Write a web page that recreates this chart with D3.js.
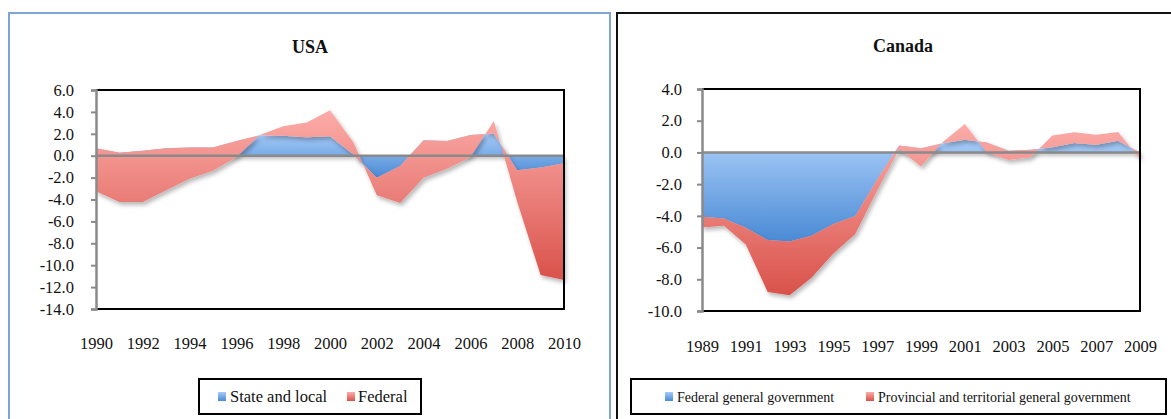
<!DOCTYPE html>
<html>
<head>
<meta charset="utf-8">
<title>USA / Canada government balances</title>
<script src="https://d3js.org/d3.v7.min.js"></script>
<style>
  body { margin: 0; background: #fff; }
  text { font-family: "Liberation Serif", "DejaVu Serif", serif; fill: #111; }
</style>
</head>
<body>
<div id="chart"></div>
<script>

// --- data (% of GDP) ---
var usaYears = d3.range(1990, 2011);
var usaStateLocal = [0.67, 0.28, 0.46, 0.67, 0.76, 0.76, 1.35, 1.87, 1.83, 1.68, 1.77,
                     0.10, -2.02, -0.95, 1.41, 1.35, 1.90, 2.03, -1.33, -1.07, -0.70];
var usaFederal = [-3.91, -4.50, -4.68, -3.82, -2.87, -2.14, -1.50, 0.03, 0.86, 1.35, 2.39,
                  1.12, -1.59, -3.36, -3.43, -2.54, -2.05, 1.15, -2.87, -9.83, -10.65];
var usaXTicks = d3.range(1990, 2011, 2);
var usaYTicks = d3.range(-14, 6.1, 2);

var canYears = d3.range(1989, 2010);
var canFederal = [-4.05, -4.16, -4.75, -5.53, -5.61, -5.25, -4.51, -4.01, -1.70, 0.44, 0.27,
                  0.58, 0.80, 0.63, 0.10, 0.17, 0.32, 0.59, 0.49, 0.74, 0.00];
var canProvincial = [-0.68, -0.46, -1.05, -3.27, -3.40, -2.66, -1.86, -1.14, -0.70, -0.24, -1.16,
                     0.07, 0.99, -0.63, -0.57, -0.47, 0.75, 0.68, 0.63, 0.55, -0.42];
var canXTicks = d3.range(1989, 2010, 2);
var canYTicks = d3.range(-10, 4.1, 2);

var width = 1171, height = 419;

var svg = d3.select("#chart").append("svg")
    .attr("width", width)
    .attr("height", height);

var defs = svg.append("defs");

// gradients like the old Excel fills
function grad(id, top, bottom) {
  var g = defs.append("linearGradient").attr("id", id)
      .attr("x1", 0).attr("y1", 0).attr("x2", 0).attr("y2", 1);
  g.append("stop").attr("offset", "0%").attr("stop-color", top);
  g.append("stop").attr("offset", "100%").attr("stop-color", bottom);
}
grad("blueFill", "#a6cbf8", "#4a8ad5");
grad("redFill", "#fcaca9", "#d9524a");

var shadow = defs.append("filter").attr("id", "shade")
    .attr("x", "-5%").attr("y", "-5%").attr("width", "115%").attr("height", "120%");
shadow.append("feDropShadow")
    .attr("dx", 2).attr("dy", 3).attr("stdDeviation", 2)
    .attr("flood-color", "#000").attr("flood-opacity", 0.28);

// panel frames
svg.append("rect").attr("x", 9).attr("y", 13).attr("width", 601).attr("height", 430)
    .attr("fill", "#fff").attr("stroke", "#7ea5d6").attr("stroke-width", 2);
svg.append("rect").attr("x", 617).attr("y", 13).attr("width", 580).attr("height", 430)
    .attr("fill", "#fff").attr("stroke", "#111").attr("stroke-width", 2);

function drawChart(cfg) {
  var x = d3.scaleLinear().domain(d3.extent(cfg.years)).range([cfg.left, cfg.right]);
  var y = d3.scaleLinear().domain(d3.extent(cfg.yTicks)).range([cfg.bottom, cfg.top]);

  var rows = cfg.years.map(function(yr, i) {
    return { year: yr, a: cfg.s1[i], b: cfg.s2[i] };
  });
  var stacked = d3.stack().keys(["a", "b"])
      .offset(d3.stackOffsetNone).order(d3.stackOrderNone)(rows);

  var area = d3.area()
      .x(function(d) { return x(d.data.year); })
      .y0(function(d) { return y(d[0]); })
      .y1(function(d) { return y(d[1]); });

  // title
  svg.append("text")
      .attr("x", cfg.titleX).attr("y", cfg.titleY)
      .attr("text-anchor", "middle")
      .style("font-size", "18px").style("font-weight", "bold")
      .text(cfg.title);

  var g = svg.append("g");

  g.selectAll(".layer").data(stacked).enter().append("path")
      .attr("class", "layer")
      .attr("d", area)
      .attr("fill", function(d, i) { return i == 0 ? "url(#blueFill)" : "url(#redFill)"; })
      .attr("filter", "url(#shade)");

  // zero line
  g.append("line")
      .attr("x1", cfg.left).attr("x2", cfg.right)
      .attr("y1", y(0)).attr("y2", y(0))
      .attr("stroke", "#8a8a8a").attr("stroke-width", 2.5);

  // frame: black top/right/bottom, grey value axis on left
  g.append("path")
      .attr("d", "M" + cfg.left + "," + cfg.top + "H" + cfg.right + "V" + cfg.bottom + "H" + cfg.left)
      .attr("fill", "none").attr("stroke", "#000").attr("stroke-width", 2);

  var yAxis = g.append("g")
      .attr("transform", "translate(" + cfg.left + ",0)")
      .call(d3.axisLeft(y).tickValues(cfg.yTicks).tickSize(5).tickPadding(cfg.yPad)
            .tickFormat(function(d) { return d.toFixed(1); }));
  yAxis.select(".domain").attr("stroke", "#8a8a8a").attr("stroke-width", 2.5);
  yAxis.selectAll(".tick line").attr("stroke", "#8a8a8a").attr("stroke-width", 2);
  yAxis.selectAll("text").style("font-size", "16.5px")
      .style("font-family", "'Liberation Serif', serif").attr("fill", "#111");

  var xAxis = g.append("g")
      .attr("transform", "translate(0," + cfg.xLabelY + ")")
      .call(d3.axisBottom(x).tickValues(cfg.xTicks).tickSize(0).tickFormat(d3.format("d")));
  xAxis.select(".domain").remove();
  xAxis.selectAll("text").style("font-size", "16.5px")
      .style("font-family", "'Liberation Serif', serif").attr("fill", "#111");

  // legend
  var lg = svg.append("g");
  lg.append("rect")
      .attr("x", cfg.legend.x).attr("y", cfg.legend.y)
      .attr("width", cfg.legend.w).attr("height", cfg.legend.h)
      .attr("fill", "#fff").attr("stroke", "#000").attr("stroke-width", 2);
  cfg.legend.items.forEach(function(it, i) {
    lg.append("rect")
        .attr("x", it.sx).attr("y", cfg.legend.y + 13)
        .attr("width", 8).attr("height", 9)
        .attr("fill", i == 0 ? "url(#blueFill)" : "url(#redFill)");
    lg.append("text")
        .attr("x", it.tx).attr("y", cfg.legend.y + 23)
        .style("font-size", cfg.legend.fontSize)
        .text(it.label);
  });
}

drawChart({
  title: "USA", titleX: 310, titleY: 53,
  years: usaYears, s1: usaStateLocal, s2: usaFederal,
  xTicks: usaXTicks, yTicks: usaYTicks,
  left: 96, right: 564, top: 90, bottom: 309,
  yPad: 17, xLabelY: 334,
  legend: { x: 199, y: 379, w: 222, h: 35, fontSize: "16.5px",
    items: [ { sx: 218, tx: 230, label: "State and local" },
             { sx: 347, tx: 358, label: "Federal" } ] }
});

drawChart({
  title: "Canada", titleX: 903, titleY: 52,
  years: canYears, s1: canFederal, s2: canProvincial,
  xTicks: canXTicks, yTicks: canYTicks,
  left: 702, right: 1140, top: 89, bottom: 311,
  yPad: 15, xLabelY: 337,
  legend: { x: 631, y: 379, w: 535, h: 35, fontSize: "14px",
    items: [ { sx: 665, tx: 677, label: "Federal general government" },
             { sx: 866, tx: 878, label: "Provincial and territorial general government" } ] }
});

</script>
</body>
</html>
